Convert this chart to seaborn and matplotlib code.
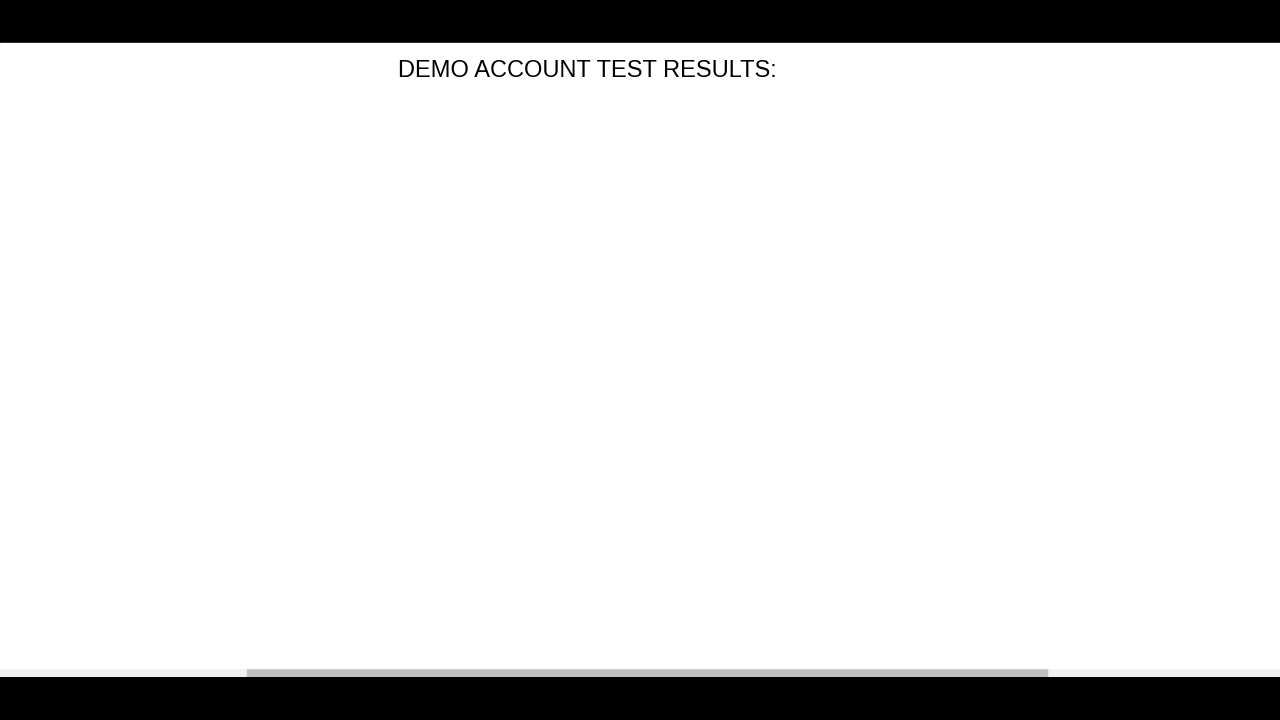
import pandas as pd
import matplotlib.pyplot as plt
import matplotlib.dates as mdates
import seaborn as sns

# Top chart: day offset from 2015-03-09 and cumulative return
day_offsets = [0, 1, 12, 15, 25, 32, 37, 47, 54, 61, 66, 76, 81, 86, 93, 104, 108, 114,
               117, 126, 134, 137, 146, 161, 166, 171, 186, 197, 212, 219, 225, 231, 241, 245]
returns = [0, 0, 10, 50, 90, 140, 160, 210, 260, 310, 330, 390, 410, 470, 510, 530, 560, 580,
           620, 880, 900, 920, 960, 980, 1010, 1030, 1100, 1120, 1140, 1160, 1180, 1210, 1240, 1255]
date_ticks = ['2015-04-28', '2015-06-17', '2015-08-06', '2015-09-25']

# Bottom chart: week index and cumulative pips (only the top part is visible)
weeks = list(range(0, 37))
pips = [0, 20, 50, 80, 120, 160, 200, 250, 320, 432, 310, 280, 260, 240, 230, 220, 230, 240,
        250, 270, 290, 300, 420, 465, 430, 465, 400, 400, 250, 240, 230, 220, 210, 200, 190, 180, 170]

top = pd.DataFrame({'date': pd.Timestamp('2015-03-09') + pd.to_timedelta(day_offsets, unit='D'),
                    'ret': returns})
bottom = pd.DataFrame({'week': weeks, 'pips': pips})

sns.set_style("white")
plt.rcParams['font.family'] = ['Liberation Sans', 'DejaVu Sans']
line_col = '#5a4ea6'

fig = plt.figure(figsize=(12.8, 7.2), dpi=100)
fig.patch.set_facecolor('black')
W, H = 1280, 720

def px(x0, y0, x1, y1):
    return [x0 / W, 1 - y1 / H, (x1 - x0) / W, (y1 - y0) / H]

# white page area
fig.patches.append(plt.Rectangle((0, 1 - 668 / H), 1, (668 - 43) / H, color='white',
                                 transform=fig.transFigure, figure=fig, zorder=0))

fig.text(587 / W, 1 - 71 / H, 'DEMO ACCOUNT TEST RESULTS:', ha='center', va='center',
         fontsize=17, color='black')

ax1 = fig.add_axes(px(147, 179, 1155, 443))
sns.lineplot(data=top, x='date', y='ret', ax=ax1, color=line_col, linewidth=3,
             drawstyle='steps-post', alpha=0.9)
ax1.set_xlim(pd.Timestamp('2015-03-09'), pd.Timestamp('2015-11-08'))
ax1.set_ylim(0, 1400)
ax1.set_yticks(range(0, 1401, 200))
ax1.set_xticks(pd.to_datetime(date_ticks))
ax1.xaxis.set_major_formatter(mdates.DateFormatter('%Y/%m/%d'))
ax1.set_title('Cumulative banked return $ per day (excluding deposits)', fontsize=14, pad=26,
              color='#222222')
ax1.tick_params(axis='x', pad=14)

ax2 = fig.add_axes(px(147, 596, 1155, 668))
sns.lineplot(data=bottom, x='week', y='pips', ax=ax2, color=line_col, linewidth=3, alpha=0.9)
ax2.set_xlim(0, 36.9)
ax2.set_ylim(333, 600)
ax2.set_yticks([400, 600])
ax2.set_xticks([10, 20, 30])
ax2.set_xticklabels([])
ax2.set_title('Cumulative net banked pips per week', fontsize=14, pad=28, color='#222222')

for ax in (ax1, ax2):
    ax.grid(True, linestyle=':', color='#777777', linewidth=1)
    ax.set_xlabel('')
    ax.set_ylabel('')
    ax.tick_params(labelsize=12, colors='#222222', length=0)
    ax.tick_params(axis='y', pad=6)
    for s in ('top', 'right'):
        ax.spines[s].set_visible(False)
    ax.spines['left'].set_color('#888888')
    ax.spines['bottom'].set_color('#888888')
ax2.spines['bottom'].set_visible(False)

# scrollbar
sb = fig.add_axes(px(0, 666, 1280, 677))
sb.set_xlim(0, 1280)
sb.set_ylim(0, 1)
sb.axis('off')
sb.add_patch(plt.Rectangle((0, 0), 1280, 1, color='#f0f0f0'))
sb.add_patch(plt.Rectangle((247, 0), 800, 1, color='#c0c0c0'))

fig.savefig('out.png', dpi=100, facecolor='black')
